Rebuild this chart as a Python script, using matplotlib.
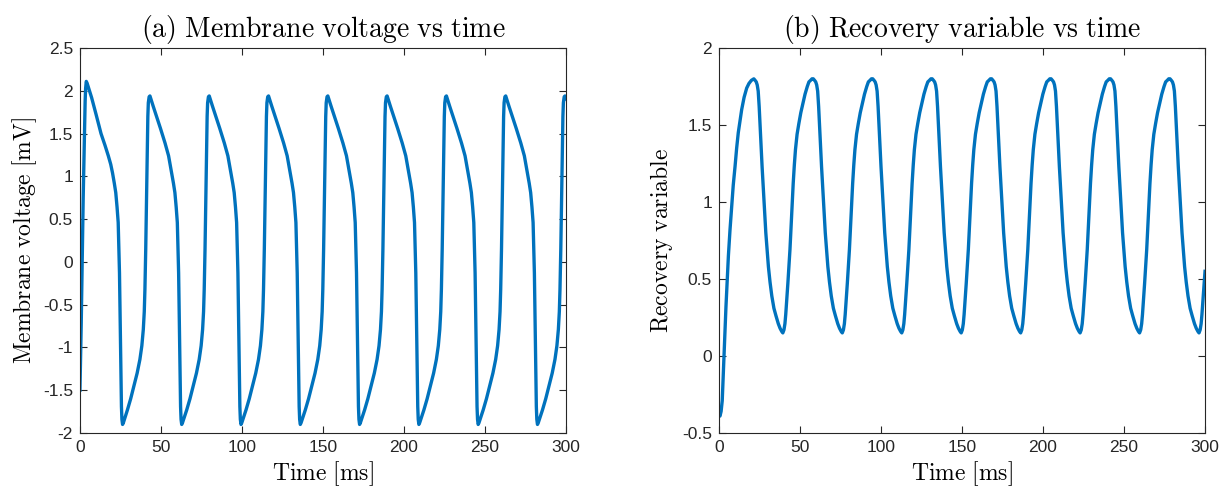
import matplotlib
matplotlib.use("Agg")
import matplotlib.pyplot as plt

# values (time in ms)
t_v = [0.0, 0.4, 0.8, 1.2, 1.6, 2.0, 2.5, 2.9, 3.2, 3.5, 3.9, 4.4, 7.2, 10.0, 13.0, 15.5, 17.5, 19.0,
       20.1, 21.2, 22.1, 22.9, 23.6, 24.0, 24.4, 25.0, 25.6, 25.9, 26.3, 26.8,
       29.3, 31.3, 33.3, 35.3, 37.0, 38.2, 39.1, 39.7, 40.1, 40.6, 41.0, 41.6, 41.9, 42.2, 42.7,
       43.2, 43.7, 45.2, 47.3, 49.7, 52.5, 54.7, 56.6, 57.7, 58.6, 59.4, 60.1, 60.5, 60.9, 61.5, 62.1, 62.4,
       62.8, 63.3, 65.9, 67.9, 69.9, 71.9, 73.6, 74.8, 75.7, 76.3, 76.7, 77.2, 77.6, 78.2, 78.5, 78.8, 79.3,
       79.8, 80.3, 81.8, 83.9, 86.3, 89.1, 91.3, 93.2, 94.3, 95.2, 96.0, 96.7, 97.1, 97.5, 98.1, 98.7, 99.0,
       99.4, 99.9, 102.5, 104.5, 106.5, 108.5, 110.2, 111.4, 112.3, 112.9, 113.3, 113.8, 114.2, 114.8, 115.1, 115.4, 115.9,
       116.4, 116.9, 118.4, 120.5, 122.9, 125.7, 127.9, 129.8, 130.9, 131.8, 132.6, 133.3, 133.7, 134.1, 134.7, 135.3, 135.6,
       136.0, 136.5, 139.1, 141.1, 143.1, 145.1, 146.8, 148.0, 148.9, 149.5, 149.9, 150.4, 150.8, 151.4, 151.7, 152.0, 152.5,
       153.0, 153.5, 155.0, 157.1, 159.5, 162.3, 164.5, 166.4, 167.5, 168.4, 169.2, 169.9, 170.3, 170.7, 171.3, 171.9, 172.2,
       172.6, 173.1, 175.7, 177.7, 179.7, 181.7, 183.4, 184.6, 185.5, 186.1, 186.5, 187.0, 187.4, 188.0, 188.3, 188.6, 189.1,
       189.6, 190.1, 191.6, 193.7, 196.1, 198.9, 201.1, 203.0, 204.1, 205.0, 205.8, 206.5, 206.9, 207.3, 207.9, 208.5, 208.8,
       209.2, 209.7, 212.3, 214.3, 216.3, 218.3, 220.0, 221.2, 222.1, 222.7, 223.1, 223.6, 224.0, 224.6, 224.9, 225.2, 225.7,
       226.2, 226.7, 228.2, 230.3, 232.7, 235.5, 237.7, 239.6, 240.7, 241.6, 242.4, 243.1, 243.5, 243.9, 244.5, 245.1, 245.4,
       245.8, 246.3, 248.9, 250.9, 252.9, 254.9, 256.6, 257.8, 258.7, 259.3, 259.7, 260.2, 260.6, 261.2, 261.5, 261.8, 262.3,
       262.8, 263.3, 264.8, 266.9, 269.3, 272.1, 274.3, 276.2, 277.3, 278.2, 279.0, 279.7, 280.1, 280.5, 281.1, 281.7, 282.0,
       282.4, 282.9, 285.5, 287.5, 289.5, 291.5, 293.2, 294.4, 295.3, 295.9, 296.3, 296.8, 297.2, 297.8, 298.1, 298.4, 298.9,
       299.4, 300.0]
v = [-1.50, -1.12, -0.71, -0.22, 0.26, 0.75, 1.24, 1.62, 1.88, 2.03, 2.11, 2.09, 1.92, 1.72, 1.50, 1.36, 1.24, 1.14,
     1.04, 0.92, 0.81, 0.64, 0.46, 0.18, -0.13, -0.91, -1.69, -1.84, -1.90, -1.88,
     -1.73, -1.60, -1.45, -1.30, -1.14, -0.98, -0.79, -0.58, -0.32, 0.15, 0.65, 1.43, 1.70, 1.86, 1.93,
     1.94, 1.91, 1.82, 1.70, 1.56, 1.39, 1.24, 1.04, 0.92, 0.81, 0.64, 0.46, 0.18, -0.13, -0.91, -1.69, -1.84,
     -1.90, -1.88, -1.73, -1.60, -1.45, -1.30, -1.14, -0.98, -0.79, -0.58, -0.32, 0.15, 0.65, 1.43, 1.70, 1.86, 1.93,
     1.94, 1.91, 1.82, 1.70, 1.56, 1.39, 1.24, 1.04, 0.92, 0.81, 0.64, 0.46, 0.18, -0.13, -0.91, -1.69, -1.84,
     -1.90, -1.88, -1.73, -1.60, -1.45, -1.30, -1.14, -0.98, -0.79, -0.58, -0.32, 0.15, 0.65, 1.43, 1.70, 1.86, 1.93,
     1.94, 1.91, 1.82, 1.70, 1.56, 1.39, 1.24, 1.04, 0.92, 0.81, 0.64, 0.46, 0.18, -0.13, -0.91, -1.69, -1.84,
     -1.90, -1.88, -1.73, -1.60, -1.45, -1.30, -1.14, -0.98, -0.79, -0.58, -0.32, 0.15, 0.65, 1.43, 1.70, 1.86, 1.93,
     1.94, 1.91, 1.82, 1.70, 1.56, 1.39, 1.24, 1.04, 0.92, 0.81, 0.64, 0.46, 0.18, -0.13, -0.91, -1.69, -1.84,
     -1.90, -1.88, -1.73, -1.60, -1.45, -1.30, -1.14, -0.98, -0.79, -0.58, -0.32, 0.15, 0.65, 1.43, 1.70, 1.86, 1.93,
     1.94, 1.91, 1.82, 1.70, 1.56, 1.39, 1.24, 1.04, 0.92, 0.81, 0.64, 0.46, 0.18, -0.13, -0.91, -1.69, -1.84,
     -1.90, -1.88, -1.73, -1.60, -1.45, -1.30, -1.14, -0.98, -0.79, -0.58, -0.32, 0.15, 0.65, 1.43, 1.70, 1.86, 1.93,
     1.94, 1.91, 1.82, 1.70, 1.56, 1.39, 1.24, 1.04, 0.92, 0.81, 0.64, 0.46, 0.18, -0.13, -0.91, -1.69, -1.84,
     -1.90, -1.88, -1.73, -1.60, -1.45, -1.30, -1.14, -0.98, -0.79, -0.58, -0.32, 0.15, 0.65, 1.43, 1.70, 1.86, 1.93,
     1.94, 1.91, 1.82, 1.70, 1.56, 1.39, 1.24, 1.04, 0.92, 0.81, 0.64, 0.46, 0.18, -0.13, -0.91, -1.69, -1.84,
     -1.90, -1.88, -1.73, -1.60, -1.45, -1.30, -1.14, -0.98, -0.79, -0.58, -0.32, 0.15, 0.65, 1.43, 1.70, 1.86, 1.93,
     1.94, 1.91]

t_w = [0.0, 0.6, 1.3, 2.0, 2.5, 3.1, 3.7, 4.3, 5.0, 5.8, 6.8, 7.8, 8.8, 9.9, 10.9, 11.9, 13.0, 14.0, 15.5, 17.1,
       18.5, 20.0, 21.5, 22.3, 23.0, 23.6, 24.2, 24.8, 25.6, 26.6, 27.7, 28.9, 29.7, 30.5, 31.5, 32.6, 33.9, 35.2,
       36.6, 37.7, 38.7,
       39.4, 40.1, 40.7, 41.2, 41.8, 42.5, 43.1, 43.8, 44.8, 45.8, 46.5, 47.2, 48.2, 49.3, 50.5, 51.8, 53.1, 54.5, 55.5, 56.5,
       57.4, 58.2, 59.0, 59.7, 60.3, 60.9, 61.5, 62.3, 63.3, 64.4, 65.6, 66.4, 67.2, 68.2, 69.3, 70.6, 71.9, 73.3, 74.4, 75.4,
       76.1, 76.8, 77.4, 77.9, 78.5, 79.2, 79.8, 80.5, 81.5, 82.5, 83.2, 83.9, 84.9, 86.0, 87.2, 88.5, 89.8, 91.2, 92.2, 93.2,
       94.1, 94.9, 95.7, 96.4, 97.0, 97.6, 98.2, 99.0, 100.0, 101.1, 102.3, 103.1, 103.9, 104.9, 106.0, 107.3, 108.6, 110.0, 111.1, 112.1,
       112.8, 113.5, 114.1, 114.6, 115.2, 115.9, 116.5, 117.2, 118.2, 119.2, 119.9, 120.6, 121.6, 122.7, 123.9, 125.2, 126.5, 127.9, 128.9, 129.9,
       130.8, 131.6, 132.4, 133.1, 133.7, 134.3, 134.9, 135.7, 136.7, 137.8, 139.0, 139.8, 140.6, 141.6, 142.7, 144.0, 145.3, 146.7, 147.8, 148.8,
       149.5, 150.2, 150.8, 151.3, 151.9, 152.6, 153.2, 153.9, 154.9, 155.9, 156.6, 157.3, 158.3, 159.4, 160.6, 161.9, 163.2, 164.6, 165.6, 166.6,
       167.5, 168.3, 169.1, 169.8, 170.4, 171.0, 171.6, 172.4, 173.4, 174.5, 175.7, 176.5, 177.3, 178.3, 179.4, 180.7, 182.0, 183.4, 184.5, 185.5,
       186.2, 186.9, 187.5, 188.0, 188.6, 189.3, 189.9, 190.6, 191.6, 192.6, 193.3, 194.0, 195.0, 196.1, 197.3, 198.6, 199.9, 201.3, 202.3, 203.3,
       204.2, 205.0, 205.8, 206.5, 207.1, 207.7, 208.3, 209.1, 210.1, 211.2, 212.4, 213.2, 214.0, 215.0, 216.1, 217.4, 218.7, 220.1, 221.2, 222.2,
       222.9, 223.6, 224.2, 224.7, 225.3, 226.0, 226.6, 227.3, 228.3, 229.3, 230.0, 230.7, 231.7, 232.8, 234.0, 235.3, 236.6, 238.0, 239.0, 240.0,
       240.9, 241.7, 242.5, 243.2, 243.8, 244.4, 245.0, 245.8, 246.8, 247.9, 249.1, 249.9, 250.7, 251.7, 252.8, 254.1, 255.4, 256.8, 257.9, 258.9,
       259.6, 260.3, 260.9, 261.4, 262.0, 262.7, 263.3, 264.0, 265.0, 266.0, 266.7, 267.4, 268.4, 269.5, 270.7, 272.0, 273.3, 274.7, 275.7, 276.7,
       277.6, 278.4, 279.2, 279.9, 280.5, 281.1, 281.7, 282.5, 283.5, 284.6, 285.8, 286.6, 287.4, 288.4, 289.5, 290.8, 292.1, 293.5, 294.6, 295.6,
       296.3, 297.0, 297.6, 298.1, 298.7, 299.4, 300.0]
w = [-0.38, -0.39, -0.36, -0.29, -0.16, 0.00, 0.16, 0.32, 0.47, 0.65, 0.82, 0.97, 1.11, 1.23, 1.35, 1.45, 1.53, 1.60, 1.68, 1.74,
     1.77, 1.79, 1.80, 1.79, 1.78, 1.76, 1.72, 1.62, 1.45, 1.23, 1.02, 0.80, 0.69, 0.58, 0.48, 0.39, 0.31, 0.26,
     0.21, 0.18, 0.16,
     0.15, 0.17, 0.21, 0.27, 0.36, 0.47, 0.57, 0.69, 0.91, 1.12, 1.24, 1.34, 1.44, 1.51, 1.58, 1.64, 1.70, 1.75, 1.78, 1.79,
     1.80, 1.80, 1.79, 1.78, 1.76, 1.72, 1.62, 1.45, 1.23, 1.02, 0.80, 0.69, 0.58, 0.48, 0.39, 0.31, 0.26, 0.21, 0.18, 0.16,
     0.15, 0.17, 0.21, 0.27, 0.36, 0.47, 0.57, 0.69, 0.91, 1.12, 1.24, 1.34, 1.44, 1.51, 1.58, 1.64, 1.70, 1.75, 1.78, 1.79,
     1.80, 1.80, 1.79, 1.78, 1.76, 1.72, 1.62, 1.45, 1.23, 1.02, 0.80, 0.69, 0.58, 0.48, 0.39, 0.31, 0.26, 0.21, 0.18, 0.16,
     0.15, 0.17, 0.21, 0.27, 0.36, 0.47, 0.57, 0.69, 0.91, 1.12, 1.24, 1.34, 1.44, 1.51, 1.58, 1.64, 1.70, 1.75, 1.78, 1.79,
     1.80, 1.80, 1.79, 1.78, 1.76, 1.72, 1.62, 1.45, 1.23, 1.02, 0.80, 0.69, 0.58, 0.48, 0.39, 0.31, 0.26, 0.21, 0.18, 0.16,
     0.15, 0.17, 0.21, 0.27, 0.36, 0.47, 0.57, 0.69, 0.91, 1.12, 1.24, 1.34, 1.44, 1.51, 1.58, 1.64, 1.70, 1.75, 1.78, 1.79,
     1.80, 1.80, 1.79, 1.78, 1.76, 1.72, 1.62, 1.45, 1.23, 1.02, 0.80, 0.69, 0.58, 0.48, 0.39, 0.31, 0.26, 0.21, 0.18, 0.16,
     0.15, 0.17, 0.21, 0.27, 0.36, 0.47, 0.57, 0.69, 0.91, 1.12, 1.24, 1.34, 1.44, 1.51, 1.58, 1.64, 1.70, 1.75, 1.78, 1.79,
     1.80, 1.80, 1.79, 1.78, 1.76, 1.72, 1.62, 1.45, 1.23, 1.02, 0.80, 0.69, 0.58, 0.48, 0.39, 0.31, 0.26, 0.21, 0.18, 0.16,
     0.15, 0.17, 0.21, 0.27, 0.36, 0.47, 0.57, 0.69, 0.91, 1.12, 1.24, 1.34, 1.44, 1.51, 1.58, 1.64, 1.70, 1.75, 1.78, 1.79,
     1.80, 1.80, 1.79, 1.78, 1.76, 1.72, 1.62, 1.45, 1.23, 1.02, 0.80, 0.69, 0.58, 0.48, 0.39, 0.31, 0.26, 0.21, 0.18, 0.16,
     0.15, 0.17, 0.21, 0.27, 0.36, 0.47, 0.57, 0.69, 0.91, 1.12, 1.24, 1.34, 1.44, 1.51, 1.58, 1.64, 1.70, 1.75, 1.78, 1.79,
     1.80, 1.80, 1.79, 1.78, 1.76, 1.72, 1.62, 1.45, 1.23, 1.02, 0.80, 0.69, 0.58, 0.48, 0.39, 0.31, 0.26, 0.21, 0.18, 0.16,
     0.15, 0.17, 0.21, 0.27, 0.36, 0.47, 0.55]

x_ticks = [0, 50, 100, 150, 200, 250, 300]
v_ticks = [-2, -1.5, -1, -0.5, 0, 0.5, 1, 1.5, 2, 2.5]
w_ticks = [-0.5, 0, 0.5, 1, 1.5, 2]

LINE_COLOR = '#0072BD'
AXIS_COLOR = '#262626'

plt.rcParams['mathtext.fontset'] = 'cm'
plt.rcParams['axes.unicode_minus'] = False
plt.rcParams['font.family'] = ['Liberation Sans', 'DejaVu Sans']


def tex(s):
    # latex-looking label, like MATLAB's latex interpreter
    return r'$\mathrm{' + s.replace(' ', r'\ ') + '}$'


def fmt(val):
    return '{:g}'.format(val)


def style_axes(ax, yticks, ylim):
    ax.set_xlim(0, 300)
    ax.set_ylim(*ylim)
    ax.set_xticks(x_ticks)
    ax.set_xticklabels([fmt(x) for x in x_ticks])
    ax.set_yticks(yticks)
    ax.set_yticklabels([fmt(y) for y in yticks])
    ax.tick_params(direction='in', length=5, width=0.8, top=True, right=True,
                   labelsize=12.5, colors=AXIS_COLOR, pad=5)
    for sp in ax.spines.values():
        sp.set_color(AXIS_COLOR)
        sp.set_linewidth(0.8)
    ax.set_xlabel(tex('Time [ms]'), fontsize=17, labelpad=3)


def main():
    fig = plt.figure(figsize=(12.32, 4.9), dpi=100)

    ax1 = fig.add_axes([0.0649, 0.1163, 0.3945, 0.7857])
    ax1.plot(t_v, v, color=LINE_COLOR, lw=2.4)
    style_axes(ax1, v_ticks, (-2, 2.5))
    ax1.set_ylabel(tex('Membrane voltage [mV]'), fontsize=17, labelpad=3)
    ax1.set_title(tex('(a) Membrane voltage vs time'), fontsize=20, pad=8)

    ax2 = fig.add_axes([0.5836, 0.1163, 0.3945, 0.7857])
    ax2.plot(t_w, w, color=LINE_COLOR, lw=2.4)
    style_axes(ax2, w_ticks, (-0.5, 2))
    ax2.set_ylabel(tex('Recovery variable'), fontsize=17, labelpad=5)
    ax2.set_title(tex('(b) Recovery variable vs time'), fontsize=20, pad=8)

    fig.savefig('out.png', dpi=100)


if __name__ == "__main__":
    main()
